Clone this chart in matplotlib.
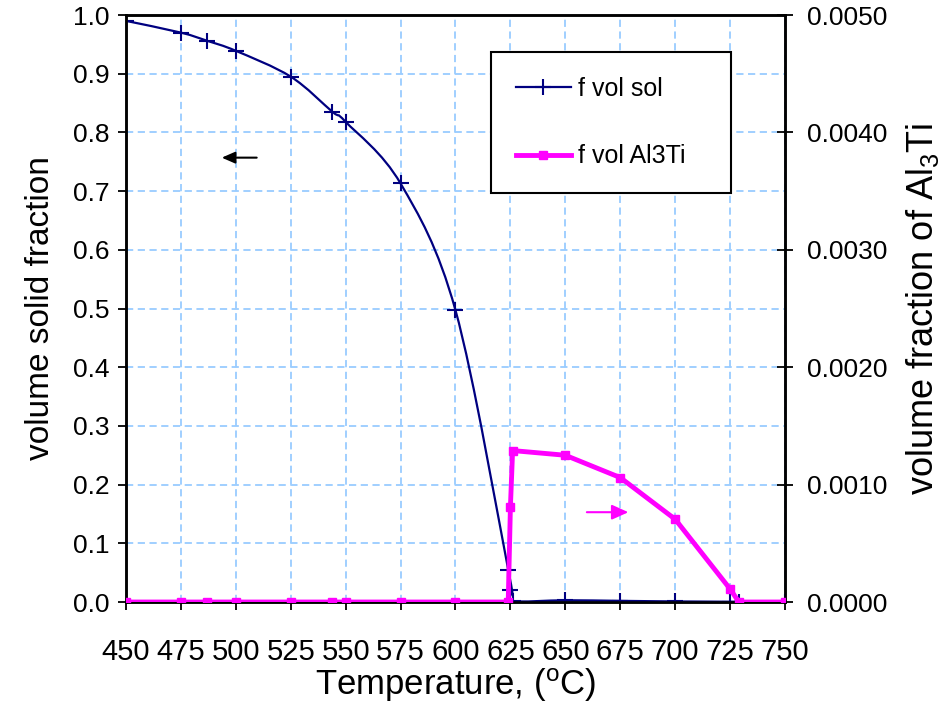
import numpy as np
import matplotlib
matplotlib.use("Agg")
import matplotlib.pyplot as plt
from matplotlib.path import Path
from matplotlib.patches import PathPatch
from matplotlib.lines import Line2D

plt.rcParams['font.family'] = ['Liberation Sans', 'DejaVu Sans']
plt.rcParams['mathtext.fontset'] = 'custom'
plt.rcParams['mathtext.rm'] = 'Liberation Sans'
plt.rcParams['mathtext.it'] = 'Liberation Sans'

# temperatures (C) shared by both series
temp = [450, 475, 487, 500, 525, 544, 550, 575, 600, 624, 625, 626,
        650, 675, 700, 725, 729, 750]
f_sol = [0.990, 0.970, 0.956, 0.939, 0.895, 0.835, 0.818, 0.713, 0.497,
         0.055, 0.021, 0.002, 0.003, 0.002, 0.001, 0.0005, 0.0, 0.0]
f_al3ti = [0, 0, 0, 0, 0, 0, 0, 0, 0, 0, 0.00081, 0.00129,
           0.00125, 0.00106, 0.000705, 0.000111, 0, 0]

x_ticks = list(range(450, 751, 25))
y_ticks = [i / 10 for i in range(11)]
y2_ticks = [i / 1000 for i in range(6)]

NAVY = '#000080'
MAGENTA = '#FF00FF'
GRID = '#99CCFF'


def smooth_path(xs, ys):
    # Excel-like smoothed line: cubic bezier through each point
    p = np.column_stack([xs, ys]).astype(float)
    verts = [p[0]]
    codes = [Path.MOVETO]
    n = len(p)
    for i in range(n - 1):
        p0 = p[i - 1] if i > 0 else p[i]
        p3 = p[i + 2] if i + 2 < n else p[i + 1]
        c1 = p[i] + (p[i + 1] - p0) / 6
        c2 = p[i + 1] - (p3 - p[i]) / 6
        verts += [c1, c2, p[i + 1]]
        codes += [Path.CURVE4] * 3
    return Path(verts, codes)


fig = plt.figure(figsize=(9.45, 7.08), dpi=100)
ax = fig.add_axes([0.1333, 0.1497, 0.6974, 0.8291])

ax.set_xlim(450, 750)
ax.set_ylim(0, 1.0)
ax.set_xticks(x_ticks)
ax.set_yticks(y_ticks)
ax.set_yticklabels(['%.1f' % v for v in y_ticks])
ax.grid(True, color=GRID, linestyle=(0, (4, 2.5)), linewidth=1.3)
ax.set_axisbelow(True)
ax.tick_params(axis='x', direction='out', length=6, width=1.3, labelsize=21, pad=20)
ax.tick_params(axis='y', direction='out', length=6, width=1.3, labelsize=19, pad=6)
for s in ax.spines.values():
    s.set_linewidth(1.8)

ax.add_patch(PathPatch(smooth_path(temp, f_sol), facecolor='none',
                       edgecolor=NAVY, linewidth=1.6, zorder=3))
ax.plot(temp, f_sol, linestyle='none', marker='+', markersize=11,
        markeredgewidth=1.5, color=NAVY, zorder=4)

ax.set_xlabel('Temperature, ($^{\\rm o}$C)', fontsize=25, labelpad=0)
ax.set_ylabel('volume solid fraction', fontsize=24, labelpad=12)

ax.annotate('', xy=(493.6, 0.757), xytext=(509.5, 0.757),
            arrowprops=dict(arrowstyle='-|>,head_length=0.8,head_width=0.35',
                            color='black', lw=1.5, shrinkA=0, shrinkB=0))
ax.annotate('', xy=(678.7, 0.153), xytext=(659.8, 0.153),
            arrowprops=dict(arrowstyle='-|>,head_length=1.0,head_width=0.45',
                            color=MAGENTA, lw=1.5, shrinkA=0, shrinkB=0),
            zorder=6)

ax2 = ax.twinx()
ax2.set_ylim(0, 0.005)
ax2.set_yticks(y2_ticks)
ax2.set_yticklabels(['%.4f' % v for v in y2_ticks])
ax2.tick_params(axis='y', direction='inout', length=12, width=1.3, labelsize=19, pad=10)
for s in ax2.spines.values():
    s.set_linewidth(1.8)
ax2.plot(temp, f_al3ti, color=MAGENTA, linewidth=3.5, marker='s',
         markersize=6, zorder=5)
ax2.set_ylabel('volume fraction of Al$_3$Ti', fontsize=26, labelpad=12)

handles = [Line2D([], [], color=NAVY, linewidth=1.6, marker='+',
                  markersize=11, markeredgewidth=1.5),
           Line2D([], [], color=MAGENTA, linewidth=3.5, marker='s', markersize=6)]
leg = ax2.legend(handles, ['f vol sol', 'f vol Al3Ti'], loc='upper left',
                 bbox_to_anchor=(0.5534, 0.9375, 0.3642, 0.0), mode='expand',
                 borderaxespad=0, fontsize=18, frameon=True, fancybox=False,
                 framealpha=1, edgecolor='black', handlelength=2.2,
                 handletextpad=0.3, labelspacing=1.75, borderpad=1.0,
                 numpoints=1)
leg.get_frame().set_linewidth(1.5)
leg.set_zorder(10)

fig.savefig('out.png', dpi=100)
